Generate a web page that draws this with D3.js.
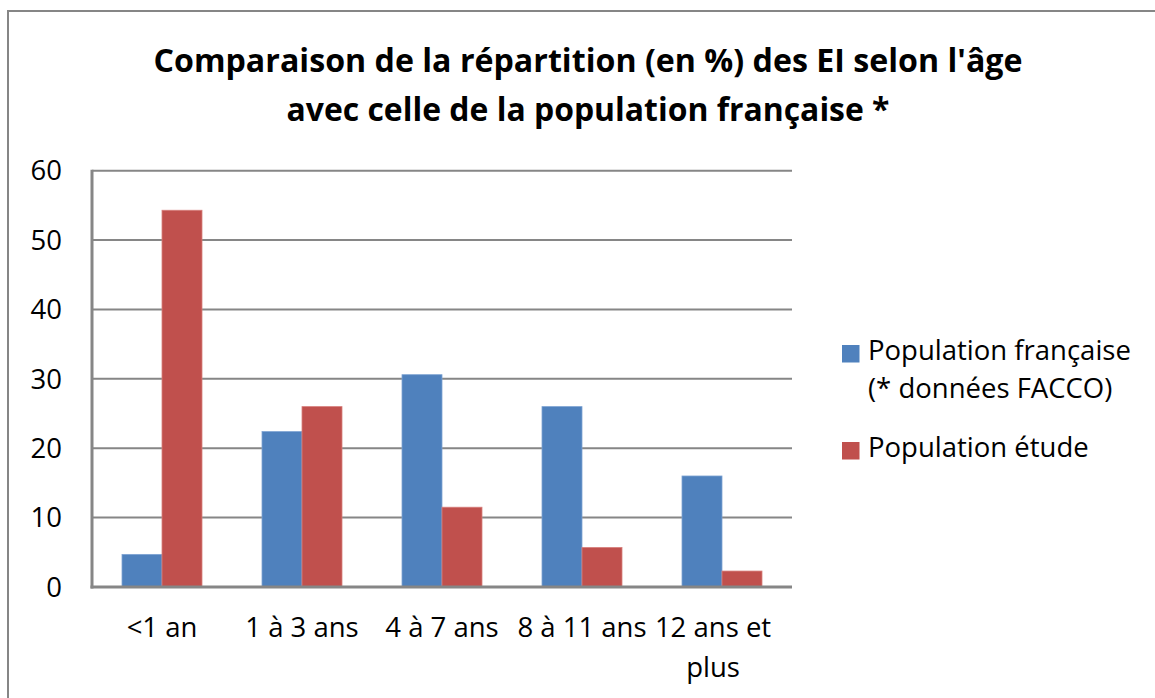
<!DOCTYPE html>
<html lang="fr">
<head>
    <meta charset="UTF-8">
    <title>Comparaison EI / population française</title>
</head>
<script src="https://cdn.jsdelivr.net/npm/d3@7/dist/d3.min.js"></script>
<body>
<div id="chart" style="width: 1155px;height: 698px;"></div>
</body>
</html>
<style>
    *{margin: 0;padding: 0}
    body{background: #fff;overflow: hidden}
    text{font-family: "Open Sans", "Noto Sans", sans-serif;fill: #000}
    .grid line{stroke: #868686;stroke-width: 2}
    .axis line{stroke: #868686;stroke-width: 3}
</style>
<script>
    // données
    var categories = ['<1 an', '1 à 3 ans', '4 à 7 ans', '8 à 11 ans', '12 ans et plus'];
    var categoryLines = [['<1 an'], ['1 à 3 ans'], ['4 à 7 ans'], ['8 à 11 ans'], ['12 ans et', 'plus']];
    var seriesNames = ['Population française', 'Population étude'];
    var legendLines = [['Population française', '(* données FACCO)'], ['Population étude']];
    var popFrancaise = [4.7, 22.4, 30.6, 26.0, 16.0];
    var popEtude = [54.3, 26.0, 11.5, 5.7, 2.3];
    var yTicks = [0, 10, 20, 30, 40, 50, 60];
    var titleLines = ["Comparaison de la répartition (en %) des EI selon l'âge",
        "avec celle de la population française *"];

    var colors = ['#4F81BD', '#C0504D'];

    function drawChart(targetId) {
        var width = 1155, height = 698;
        var plot = {left: 92, right: 792, top: 170.7, bottom: 587};

        var svg = d3.select('#' + targetId)
            .append('svg')
            .attr('width', width)
            .attr('height', height);

        // cadre du graphique (coupé à droite et en bas)
        svg.append('rect')
            .attr('x', 8).attr('y', 11)
            .attr('width', 1160).attr('height', 710)
            .attr('fill', '#fff')
            .attr('stroke', '#868686')
            .attr('stroke-width', 2);

        var x0 = d3.scaleBand().domain(categories).range([plot.left, plot.right]);
        var x1 = d3.scaleBand().domain(seriesNames).range([0, 80]);
        var groupOffset = (x0.bandwidth() - 80) / 2;
        var y = d3.scaleLinear().domain([0, 60]).range([plot.bottom, plot.top]);

        /*titre*/
        var title = svg.append('g').attr('class', 'title');
        var titleWidths = [869, 603];
        title.selectAll('text')
            .data(titleLines)
            .enter()
            .append('text')
            .attr('x', 588)
            .attr('y', function (d, i) { return 72 + i * 49; })
            .attr('text-anchor', 'middle')
            .attr('font-size', 32)
            .attr('font-weight', 'bold')
            .attr('textLength', function (d, i) { return titleWidths[i]; })
            .attr('lengthAdjust', 'spacingAndGlyphs')
            .text(function (d) { return d; });

        /*grille*/
        svg.append('g').attr('class', 'grid')
            .selectAll('line')
            .data(yTicks.filter(function (t) { return t > 0; }))
            .enter()
            .append('line')
            .attr('x1', plot.left).attr('x2', plot.right)
            .attr('y1', function (d) { return y(d); })
            .attr('y2', function (d) { return y(d); });

        /*barres*/
        var series = [popFrancaise, popEtude];
        var groups = svg.append('g').attr('class', 'bars')
            .selectAll('g')
            .data(series)
            .enter()
            .append('g')
            .attr('fill', function (d, i) { return colors[i]; });

        groups.each(function (values, si) {
            d3.select(this).selectAll('rect')
                .data(values)
                .enter()
                .append('rect')
                .attr('x', function (d, i) { return x0(categories[i]) + groupOffset + x1(seriesNames[si]); })
                .attr('y', function (d) { return y(d); })
                .attr('width', x1.bandwidth())
                .attr('height', function (d) { return y(0) - y(d); })
                .attr('stroke', si === 0 ? '#7ea3d3' : '#d77f7c')
                .attr('stroke-width', 0.8);
        });

        /*axes*/
        var axis = svg.append('g').attr('class', 'axis');
        axis.append('line')
            .attr('x1', plot.left).attr('x2', plot.left)
            .attr('y1', plot.top - 1).attr('y2', plot.bottom + 1.5);
        axis.append('line')
            .attr('x1', plot.left - 1.5).attr('x2', plot.right)
            .attr('y1', plot.bottom).attr('y2', plot.bottom);

        // libellés Y
        svg.append('g').attr('class', 'ylabels')
            .selectAll('text')
            .data(yTicks)
            .enter()
            .append('text')
            .attr('x', 62)
            .attr('y', function (d) { return y(d) + 9.7; })
            .attr('text-anchor', 'end')
            .attr('font-size', 27.5)
            .text(function (d) { return d; });

        // libellés X
        var xl = svg.append('g').attr('class', 'xlabels')
            .selectAll('text')
            .data(categoryLines)
            .enter()
            .append('text')
            .attr('font-size', 27.5)
            .attr('text-anchor', 'middle')
            .attr('transform', function (d, i) {
                var shift = d.length > 1 ? -9 : 0;
                return 'translate(' + (x0(categories[i]) + x0.bandwidth() / 2 + shift) + ',637)';
            });
        xl.selectAll('tspan')
            .data(function (d) { return d; })
            .enter()
            .append('tspan')
            .attr('x', 0)
            .attr('y', function (d, i) { return i * 39.5; })
            .text(function (d) { return d; });

        /*légende*/
        var legendY = [345, 442];
        var legend = svg.append('g').attr('class', 'legend')
            .selectAll('g')
            .data(legendLines)
            .enter()
            .append('g')
            .attr('transform', function (d, i) { return 'translate(842,' + legendY[i] + ')'; });
        legend.append('rect')
            .attr('width', 17.5).attr('height', 17.5)
            .attr('fill', function (d, i) { return colors[i]; });
        legend.append('text')
            .attr('font-size', 27.5)
            .selectAll('tspan')
            .data(function (d) { return d; })
            .enter()
            .append('tspan')
            .attr('x', 26)
            .attr('y', function (d, i) { return 14.5 + i * 38.5; })
            .text(function (d) { return d; });
    }

    drawChart('chart');
</script>
